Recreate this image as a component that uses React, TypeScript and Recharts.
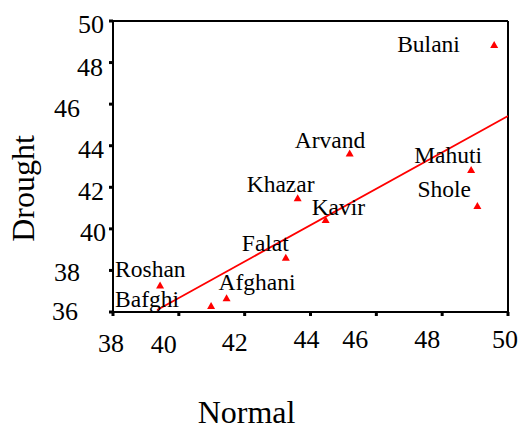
import React from 'react'
import {
  ScatterChart, Scatter, XAxis, YAxis, ReferenceLine, Label
} from 'recharts'

// stations
const stations = ['Bulani', 'Arvand', 'Mahuti', 'Shole', 'Kavir', 'Khazar', 'Falat', 'Afghani', 'Bafghi', 'Roshan']
const normalValues = [49.58, 45.19, 48.88, 49.07, 44.46, 43.61, 43.25, 41.45, 40.98, 39.43]
const droughtValues = [48.84, 43.63, 42.83, 41.1, 40.43, 41.47, 38.61, 36.66, 36.29, 37.27]

// fitted line end points
const trendNormal = [39.34, 50]
const trendDrought = [36.1, 45.43]

const xTicks = [38, 40, 42, 44, 46, 48, 50]
const yTicks = [36, 38, 40, 42, 44, 46, 48, 50]

const FONT = '"Liberation Serif", "Times New Roman", serif'
const RED = '#ff0000'

const points = stations.map((name, i) => ({ name, x: normalValues[i], y: droughtValues[i] }))
const trend = trendNormal.map((x, i) => ({ x, y: trendDrought[i] }))

const txt = (size: number) => ({ fontFamily: FONT, fontSize: size, fill: '#000' })

// label placement relative to marker: [left edge dx, baseline dy]
const labelPos: Record<string, [number, number]> = {
  Bulani: [-97, 7],
  Arvand: [-55, -5],
  Mahuti: [-57, -7],
  Shole: [-60, -9],
  Kavir: [-14, -5],
  Khazar: [-51, -6],
  Falat: [-44, -7],
  Afghani: [-8, -8],
  Bafghi: [-96, 1],
  Roshan: [-45, -9],
}

// tick label nudges, the original labels sit off their marks
const xTickNudge: Record<number, [number, number]> = {
  38: [-2, 34], 40: [-15, 35], 42: [-10, 33], 44: [-4, 30],
  46: [-21, 30], 48: [-15, 30], 50: [-3, 30],
}
const yTickNudge: Record<number, [number, number]> = {
  50: [-9, 12], 48: [-10, 13], 46: [-33, 12.5], 44: [-9, 12.5],
  42: [-9, 12.5], 40: [-7, 12.5], 38: [-33, 10.5], 36: [-35, 8],
}

const Marker = (props: any) => {
  const { cx, cy, payload } = props
  if (cx == null || cy == null) return <g />
  const [dx, dy] = labelPos[payload.name] ?? [0, 0]
  return (
    <g>
      <polygon points={`${cx},${cy - 4} ${cx - 4},${cy + 3} ${cx + 4},${cy + 3}`} fill={RED} />
      <text x={cx + dx} y={cy + dy} style={txt(23.5)}>{payload.name}</text>
    </g>
  )
}

const XTick = (props: any) => {
  const { x, y, payload } = props
  const [dx, dy] = xTickNudge[payload.value] ?? [0, 30]
  return (
    <text x={x + dx} y={y + dy} textAnchor="middle" style={txt(26)}>
      {payload.value}
    </text>
  )
}

const YTick = (props: any) => {
  const { x, y, payload } = props
  const [dx, dy] = yTickNudge[payload.value] ?? [-9, 12.5]
  return (
    <text x={x + 6 + dx} y={y + dy} textAnchor="end" style={txt(26)}>
      {payload.value}
    </text>
  )
}

export default function App() {
  return (
    <div style={{ position: 'absolute', left: 0, top: 0, width: 519, height: 425, background: '#fff' }}>
      <ScatterChart width={519} height={425} margin={{ top: 21, right: 11, bottom: 0, left: 0 }}>
        <XAxis
          type="number"
          dataKey="x"
          domain={[38, 50]}
          ticks={xTicks}
          allowDataOverflow
          height={113}
          axisLine={{ stroke: '#000', strokeWidth: 2 }}
          tickLine={{ stroke: '#000', strokeWidth: 3 }}
          tickSize={4}
          tick={<XTick />}
          interval={0}
        >
          <Label
            content={(p: any) => {
              const vb = p.viewBox
              return (
                <text x={vb.x + vb.width / 2 - 64} y={vb.y + 111} textAnchor="middle"
                  style={txt(32)}>Normal</text>
              )
            }}
          />
        </XAxis>
        <YAxis
          type="number"
          dataKey="y"
          domain={[36, 50]}
          ticks={yTicks}
          allowDataOverflow
          width={113}
          axisLine={{ stroke: '#000', strokeWidth: 2 }}
          tickLine={{ stroke: '#000', strokeWidth: 3 }}
          tickSize={4}
          tick={<YTick />}
          interval={0}
        >
          <Label
            content={(p: any) => {
              const vb = p.viewBox
              const cy = vb.y + vb.height / 2 + 22
              return (
                <text x={34} y={cy} textAnchor="middle" transform={`rotate(-90 34 ${cy})`}
                  style={txt(32)}>Drought</text>
              )
            }}
          />
        </YAxis>
        <ReferenceLine y={50} stroke="#000" strokeWidth={2} />
        <ReferenceLine x={50} stroke="#000" strokeWidth={2} />
        <Scatter
          data={trend}
          line={{ stroke: RED, strokeWidth: 1.8 }}
          shape={() => <g />}
          isAnimationActive={false}
        />
        <Scatter data={points} shape={<Marker />} isAnimationActive={false} />
      </ScatterChart>
    </div>
  )
}
